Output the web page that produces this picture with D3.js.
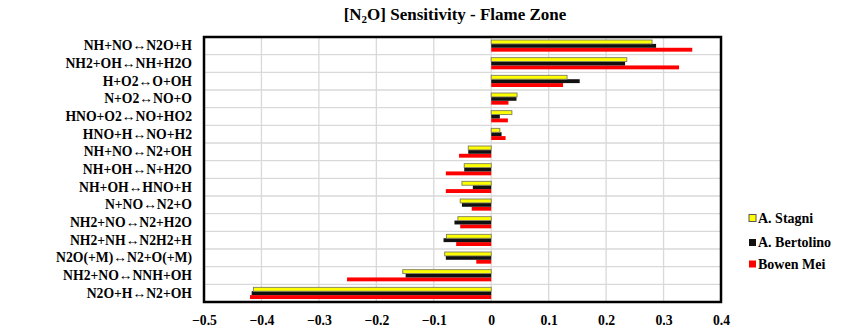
<!DOCTYPE html>
<html><head><meta charset="utf-8">
<script src="https://cdn.jsdelivr.net/npm/d3@7"></script>
<style>body{margin:0;background:#fff;} svg text{font-family:"Liberation Serif","Times New Roman",serif;font-weight:bold;}</style>
</head><body><svg id="c" width="854" height="332"></svg>
<script>
const categories = ["NH+NO↔N2O+H","NH2+OH↔NH+H2O","H+O2↔O+OH","N+O2↔NO+O","HNO+O2↔NO+HO2","HNO+H↔NO+H2","NH+NO↔N2+OH","NH+OH↔N+H2O","NH+OH↔HNO+H","N+NO↔N2+O","NH2+NO↔N2+H2O","NH2+NH↔N2H2+H","N2O(+M)↔N2+O(+M)","NH2+NO↔NNH+OH","N2O+H↔N2+OH"];
const seriesNames = ["A. Stagni","A. Bertolino","Bowen Mei"];
const stagni    = [0.280,0.236,0.132,0.045,0.036,0.015,-0.040,-0.047,-0.051,-0.054,-0.058,-0.078,-0.081,-0.154,-0.414];
const bertolino = [0.287,0.233,0.154,0.044,0.015,0.018,-0.040,-0.047,-0.032,-0.051,-0.064,-0.083,-0.079,-0.149,-0.417];
const mei       = [0.350,0.327,0.125,0.030,0.029,0.025,-0.056,-0.079,-0.079,-0.034,-0.054,-0.061,-0.026,-0.251,-0.420];
const xTicks = [-0.5,-0.4,-0.3,-0.2,-0.1,0,0.1,0.2,0.3,0.4];
const colors = ["#ffff00","#111111","#ff0000"];
const strokes = ["#7f7f5f","none","none"];

const svg = d3.select("#c");
const L=204,R=721,T=37,B=302;
const x = d3.scaleLinear().domain([-0.5,0.4]).range([L,R]);
const y = d3.scaleBand().domain(categories).range([T,B]);
const sub = d3.scaleBand().domain(seriesNames).range([y.bandwidth()*0.17, y.bandwidth()*0.83]).paddingInner(0);

const g = svg.append("g");
g.selectAll(".vg").data(xTicks).join("line").attr("x1",d=>x(d)).attr("x2",d=>x(d)).attr("y1",T).attr("y2",B).attr("stroke","#d9d9d9").attr("stroke-width",1.3);
g.selectAll(".hg").data(categories.slice(1)).join("line").attr("x1",L).attr("x2",R).attr("y1",d=>y(d)).attr("y2",d=>y(d)).attr("stroke","#d9d9d9").attr("stroke-width",1.3);

const data = [stagni,bertolino,mei];
[2,1,0].forEach(si=>{
  svg.append("g").selectAll("rect").data(categories).join("rect")
    .attr("x",(d,i)=>x(Math.min(0,data[si][i])))
    .attr("width",(d,i)=>Math.abs(x(data[si][i])-x(0)))
    .attr("y",d=>y(d)+sub(seriesNames[si]))
    .attr("height",sub.bandwidth())
    .attr("fill",colors[si])
    .attr("stroke",strokes[si]).attr("stroke-width",0.9);
});

svg.append("rect").attr("x",L).attr("y",T).attr("width",R-L).attr("height",B-T).attr("fill","none").attr("stroke","#000").attr("stroke-width",2.5);

const yAxis = d3.axisLeft(y).tickSize(0).tickPadding(12);
const ya = svg.append("g").attr("transform",`translate(${L},0)`).call(yAxis).attr("font-family",null);
ya.select(".domain").remove();
ya.selectAll("text").attr("font-size","13.7px").attr("fill","#000");

const xAxis = d3.axisBottom(x).tickValues(xTicks).tickSize(0).tickPadding(13).tickFormat(d=>d===0?"0":d3.format("")(+d.toFixed(1)));
const xa = svg.append("g").attr("transform",`translate(0,${B})`).call(xAxis).attr("font-family",null);
xa.select(".domain").remove();
xa.selectAll("text").attr("font-size","13.7px").attr("fill","#000");

const t = svg.append("text").attr("x",455).attr("y",20).attr("text-anchor","middle").attr("font-size","17px");
t.append("tspan").text("[N");
t.append("tspan").text("2").attr("font-size","11px").attr("dy",3);
t.append("tspan").text("O] Sensitivity - Flame Zone").attr("dy",-3);

const lg = svg.append("g");
const ly = [218,242.5,264];
seriesNames.forEach((n,i)=>{
  lg.append("rect").attr("x",749).attr("y",ly[i]-3.5).attr("width",7).attr("height",7).attr("fill",colors[i]).attr("stroke",i===0?"#555":"none").attr("stroke-width",1);
  lg.append("text").attr("x",758).attr("y",ly[i]+4.5).attr("font-size","14px").text(n);
});
</script></body></html>
